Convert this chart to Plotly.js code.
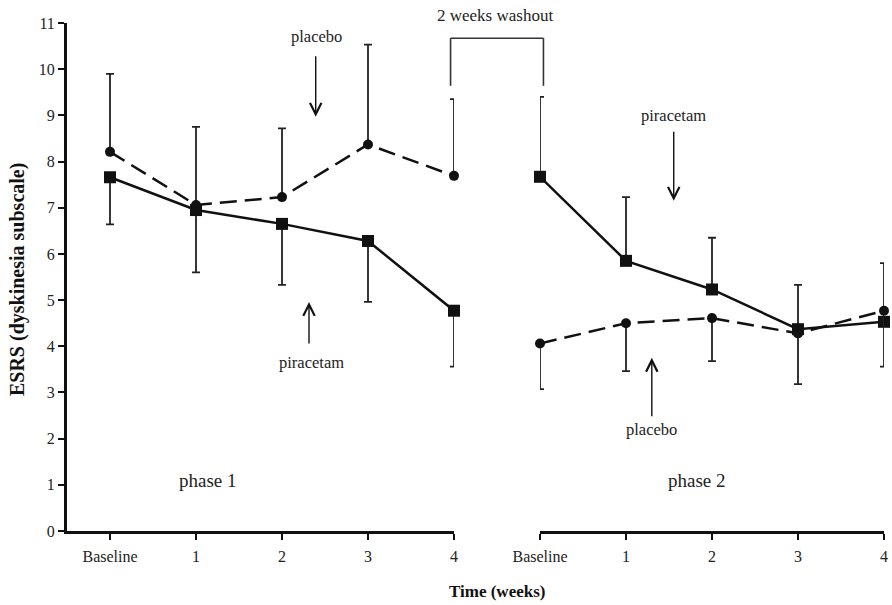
<!DOCTYPE html>
<html>
<head>
<meta charset="utf-8">
<script src="https://cdn.plot.ly/plotly-3.0.1.min.js"></script>
<style>html,body{margin:0;padding:0;background:#fff;}#chart{width:892px;height:605px;}</style>
</head>
<body>
<div id="chart"></div>
<script>
// ---- data ----
const tickLabels = ['Baseline', '1', '2', '3', '4'];
const phase1X = [0, 1, 2, 3, 4];
const phase2X = [5, 6, 7, 8, 9];

const p1Piracetam = [7.66, 6.95, 6.65, 6.28, 4.77];
const p1PiracetamErrMinus = [1.02, 1.35, 1.32, 1.32, 1.21];
const p1Placebo = [8.21, 7.06, 7.23, 8.37, 7.69];
const p1PlaceboErrPlus = [1.69, 1.69, 1.49, 2.16, 1.66];

const p2Piracetam = [7.67, 5.85, 5.23, 4.37, 4.53];
const p2PiracetamErrPlus = [1.73, 1.38, 1.12, 0.96, 1.27];
const p2Placebo = [4.06, 4.50, 4.61, 4.28, 4.77];
const p2PlaceboErrMinus = [0.99, 1.04, 0.93, 1.10, 1.21];

const zeros = [0, 0, 0, 0, 0];

// ---- styles ----
const ink = '#111';
const serif = 'Liberation Serif, Times New Roman, serif';
const errStyle = {type: 'data', symmetric: false, width: 4, thickness: 1.8, color: '#222'};

function pira(x, y, up, down, xa) {
  return {x: x, y: y, xaxis: xa, yaxis: 'y', type: 'scatter', mode: 'lines+markers',
    line: {color: ink, width: 2.5},
    marker: {symbol: 'square', size: 12, color: ink},
    error_y: Object.assign({array: up, arrayminus: down}, errStyle),
    cliponaxis: false, showlegend: false, hoverinfo: 'x+y'};
}
function plac(x, y, up, down, xa) {
  return {x: x, y: y, xaxis: xa, yaxis: 'y', type: 'scatter', mode: 'lines+markers',
    line: {color: ink, width: 2.5, dash: '17px,8px'},
    marker: {symbol: 'circle', size: 10, color: ink},
    error_y: Object.assign({array: up, arrayminus: down}, errStyle),
    cliponaxis: false, showlegend: false, hoverinfo: 'x+y'};
}

const traces = [
  // invisible helper trace for the full-width overlay axis (drawn first)
  {x: [0], y: [null], xaxis: 'x3', yaxis: 'y', type: 'scatter', mode: 'markers', showlegend: false, hoverinfo: 'skip'},
  pira(phase1X, p1Piracetam, zeros, p1PiracetamErrMinus, 'x'),
  plac(phase1X, p1Placebo, p1PlaceboErrPlus, zeros, 'x'),
  pira(phase2X, p2Piracetam, p2PiracetamErrPlus, zeros, 'x2'),
  plac(phase2X, p2Placebo, zeros, p2PlaceboErrMinus, 'x2')
];

const tickFont = {family: serif, size: 16, color: '#222'};
const xBase = {
  showline: true, linewidth: 3, linecolor: ink, ticks: 'outside', ticklen: 6, tickwidth: 2.5,
  tickcolor: ink, showgrid: false, zeroline: false, anchor: 'y', tickfont: tickFont, fixedrange: true,
  ticklabelstandoff: 3
};

const arrowBase = {xref: 'x3', yref: 'y', axref: 'x3', ayref: 'y', text: '', showarrow: true,
  arrowhead: 5, arrowsize: 1.6, arrowwidth: 1.4, arrowcolor: ink, standoff: 0};
const labelFont = {family: serif, size: 16.5, color: '#222'};
const txt = {showarrow: false, xanchor: 'center', yanchor: 'middle'};

const layout = {
  width: 892, height: 605,
  margin: {l: 67, r: 8, t: 23, b: 74},
  paper_bgcolor: '#fff', plot_bgcolor: 'rgba(0,0,0,0)',
  xaxis: Object.assign({}, xBase, {domain: [0, 4.5 / 9.5], range: [-0.5, 4],
    tickvals: phase1X, ticktext: tickLabels}),
  xaxis2: Object.assign({}, xBase, {domain: [5.5 / 9.5, 1], range: [5, 9],
    tickvals: phase2X, ticktext: tickLabels}),
  xaxis3: {domain: [0, 1], range: [-0.5, 9], visible: false, anchor: 'y', fixedrange: true},
  yaxis: {range: [0, 11], tickvals: [0,1,2,3,4,5,6,7,8,9,10,11], showline: true, linewidth: 3,
    linecolor: ink, ticks: 'outside', ticklen: 6, tickwidth: 2, tickcolor: ink,
    showgrid: false, zeroline: false, anchor: 'x', tickfont: tickFont, fixedrange: true},
  shapes: [
    {type: 'line', xref: 'x3', yref: 'y', x0: 3.96, x1: 3.96, y0: 9.64, y1: 10.67, line: {color: '#333', width: 1.6}},
    {type: 'line', xref: 'x3', yref: 'y', x0: 3.96, x1: 5.04, y0: 10.67, y1: 10.67, line: {color: '#333', width: 1.6}},
    {type: 'line', xref: 'x3', yref: 'y', x0: 5.04, x1: 5.04, y0: 9.64, y1: 10.67, line: {color: '#333', width: 1.6}}
  ],
  annotations: [
    // axis titles
    Object.assign({xref: 'paper', yref: 'paper', x: 0.526, y: -0.1195, text: '<b>Time (weeks)</b>',
      font: {family: serif, size: 17, color: ink}}, txt),
    Object.assign({xref: 'paper', yref: 'paper', x: -0.0612, y: 0.496, text: '<b>ESRS (dyskinesia subscale)</b>',
      textangle: -90, font: {family: serif, size: 20, color: ink}}, txt),
    // washout
    Object.assign({xref: 'x3', yref: 'paper', x: 4.48, y: 1.0138, text: '2 weeks washout',
      font: {family: serif, size: 17, color: '#222'}}, txt),
    // phase labels
    Object.assign({xref: 'x3', yref: 'y', x: 1.14, y: 1.10, text: 'phase 1', font: {family: serif, size: 19, color: '#222'}}, txt),
    Object.assign({xref: 'x3', yref: 'y', x: 6.83, y: 1.10, text: 'phase 2', font: {family: serif, size: 19, color: '#222'}}, txt),
    // phase 1 placebo
    Object.assign({xref: 'x3', yref: 'y', x: 2.40, y: 10.70, text: 'placebo', font: labelFont}, txt),
    Object.assign({}, arrowBase, {x: 2.392, y: 8.97, ax: 2.392, ay: 10.31}),
    // phase 1 piracetam
    Object.assign({xref: 'x3', yref: 'y', x: 2.34, y: 3.64, text: 'piracetam', font: labelFont}, txt),
    Object.assign({}, arrowBase, {x: 2.314, y: 4.96, ax: 2.314, ay: 4.03}),
    // phase 2 piracetam
    Object.assign({xref: 'x3', yref: 'y', x: 6.555, y: 8.99, text: 'piracetam', font: labelFont}, txt),
    Object.assign({}, arrowBase, {x: 6.555, y: 7.15, ax: 6.555, ay: 8.68}),
    // phase 2 placebo
    Object.assign({xref: 'x3', yref: 'y', x: 6.30, y: 2.20, text: 'placebo', font: labelFont}, txt),
    Object.assign({}, arrowBase, {x: 6.30, y: 3.75, ax: 6.30, ay: 2.45})
  ]
};

Plotly.newPlot('chart', traces, layout, {displayModeBar: false, staticPlot: true});
</script>
</body>
</html>
